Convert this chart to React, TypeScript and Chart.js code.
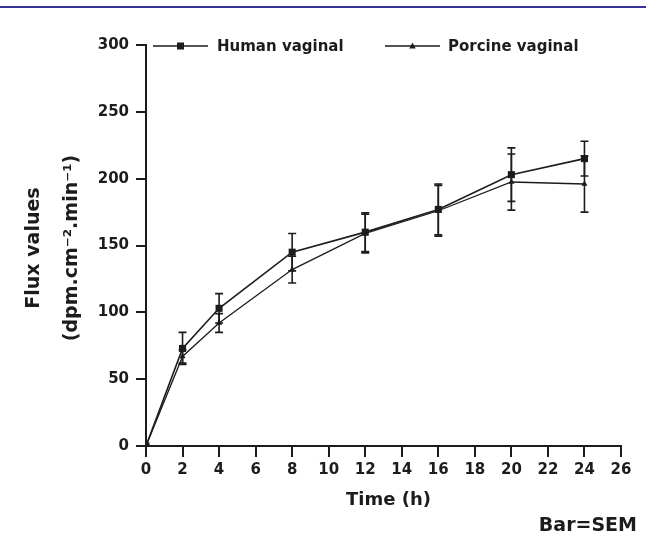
import React, { useEffect, useRef } from "react";
import { Chart, registerables } from "chart.js";

Chart.register(...registerables);

const times = [0, 2, 4, 8, 12, 16, 20, 24];
const humanFlux = [0, 73, 103, 145, 160, 177, 203, 215];
const humanSem = [0, 12, 11, 14, 14.5, 19, 20, 13];
const porcineFlux = [0, 67, 92, 132, 159, 176, 197.5, 196];
const porcineSem = [0, 5, 7, 10, 14.5, 19, 21, 21];
const seriesNames = ["Human vaginal", "Porcine vaginal"];
const xTitle = "Time (h)";
const yTitleLines = ["Flux values", "(dpm.cm\u207B\u00B2.min\u207B\u00B9)"];
const noteText = "Bar=SEM";

const INK = "#1c1c1c";
const FONT = "'DejaVu Sans', sans-serif";

const errorBarPlugin = {
  id: "errorBars",
  beforeDatasetsDraw(chart: any) {
    const { ctx, scales } = chart;
    const sets = [
      { vals: humanFlux, sem: humanSem },
      { vals: porcineFlux, sem: porcineSem },
    ];
    ctx.save();
    ctx.strokeStyle = INK;
    ctx.lineWidth = 1.6;
    sets.forEach((s) => {
      times.forEach((t, j) => {
        if (!s.sem[j]) return;
        const x = scales.x.getPixelForValue(t);
        const yt = scales.y.getPixelForValue(s.vals[j] + s.sem[j]);
        const yb = scales.y.getPixelForValue(s.vals[j] - s.sem[j]);
        ctx.beginPath();
        ctx.moveTo(x, yt);
        ctx.lineTo(x, yb);
        ctx.moveTo(x - 4, yt);
        ctx.lineTo(x + 4, yt);
        ctx.moveTo(x - 4, yb);
        ctx.lineTo(x + 4, yb);
        ctx.stroke();
      });
    });
    ctx.restore();
  },
};

const textPlugin = {
  id: "textDecor",
  afterDraw(chart: any) {
    const { ctx, chartArea } = chart;
    ctx.save();
    ctx.fillStyle = INK;
    ctx.strokeStyle = INK;
    // legend
    const ly = 46;
    const items = [
      { x0: 153, x1: 208, style: "rect", r: 4.5, tx: 217, lw: 1.6 },
      { x0: 385, x1: 440, style: "triangle", r: 3.5, tx: 448, lw: 1.3 },
    ];
    items.forEach((it, i) => {
      ctx.lineWidth = it.lw;
      ctx.beginPath();
      ctx.moveTo(it.x0, ly);
      ctx.lineTo(it.x1, ly);
      ctx.stroke();
      const cx = (it.x0 + it.x1) / 2;
      ctx.beginPath();
      if (it.style === "rect") {
        ctx.rect(cx - 3.5, ly - 3.5, 7, 7);
      } else {
        ctx.moveTo(cx, ly - 3.5);
        ctx.lineTo(cx + 3.2, ly + 2.5);
        ctx.lineTo(cx - 3.2, ly + 2.5);
        ctx.closePath();
      }
      ctx.fill();
      ctx.font = `bold 15px ${FONT}`;
      ctx.textBaseline = "middle";
      ctx.textAlign = "left";
      ctx.fillText(seriesNames[i], it.tx, ly + 1);
    });
    // x title
    ctx.font = `bold 18px ${FONT}`;
    ctx.textAlign = "center";
    ctx.textBaseline = "middle";
    ctx.fillText(xTitle, (chartArea.left + chartArea.right) / 2 + 5, 500);
    // note
    ctx.font = `bold 19px ${FONT}`;
    ctx.textAlign = "right";
    ctx.fillText(noteText, 637, 526);
    // y title
    ctx.save();
    ctx.translate(0, 248);
    ctx.rotate(-Math.PI / 2);
    ctx.font = `bold 19px ${FONT}`;
    ctx.textAlign = "center";
    ctx.textBaseline = "middle";
    ctx.fillText(yTitleLines[0], 0, 34);
    ctx.fillText(yTitleLines[1], 0, 72);
    ctx.restore();
    ctx.restore();
  },
};

export default function App() {
  const ref = useRef<HTMLCanvasElement | null>(null);
  useEffect(() => {
    if (!ref.current) return;
    const tickFont = { family: FONT, size: 15, weight: "bold" as const };
    const chart = new Chart(ref.current, {
      type: "line",
      data: {
        datasets: [
          {
            label: seriesNames[0],
            data: times.map((t, i) => ({ x: t, y: humanFlux[i] })),
            borderColor: INK,
            backgroundColor: INK,
            borderWidth: 1.6,
            pointStyle: "rect",
            pointRadius: 5,
            pointBorderWidth: 0,
            tension: 0,
          },
          {
            label: seriesNames[1],
            data: times.map((t, i) => ({ x: t, y: porcineFlux[i] })),
            borderColor: INK,
            backgroundColor: INK,
            borderWidth: 1.3,
            pointStyle: "triangle",
            pointRadius: 3.5,
            pointBorderWidth: 0,
            tension: 0,
          },
        ],
      },
      options: {
        animation: false,
        responsive: false,
        layout: { padding: { top: 45, right: 25, left: 0, bottom: 0 } },
        plugins: {
          legend: { display: false },
          tooltip: { enabled: false },
        },
        scales: {
          x: {
            type: "linear",
            min: 0,
            max: 26,
            afterFit: (s: any) => {
              s.height = 93;
            },
            ticks: {
              stepSize: 2,
              autoSkip: false,
              maxRotation: 0,
              color: INK,
              font: tickFont,
              padding: 4,
            },
            grid: {
              drawOnChartArea: false,
              drawTicks: true,
              tickLength: 11,
              color: INK,
              lineWidth: 2,
            },
            border: { display: true, color: INK, width: 2 },
          },
          y: {
            min: 0,
            max: 300,
            afterFit: (s: any) => {
              s.width = 146;
            },
            ticks: {
              stepSize: 50,
              color: INK,
              font: tickFont,
              padding: 7,
            },
            grid: {
              drawOnChartArea: false,
              drawTicks: true,
              tickLength: 10,
              color: INK,
              lineWidth: 2,
            },
            border: { display: true, color: INK, width: 2 },
          },
        },
      },
      plugins: [errorBarPlugin, textPlugin],
    });
    return () => chart.destroy();
  }, []);

  return (
    <div
      style={{
        position: "fixed",
        left: 0,
        top: 0,
        width: 646,
        height: 539,
        background: "#fff",
      }}
    >
      <div
        style={{
          position: "absolute",
          left: 0,
          top: 6,
          width: 646,
          height: 2,
          background: "#333399",
        }}
      />
      <canvas
        ref={ref}
        width={646}
        height={539}
        style={{ display: "block", width: 646, height: 539 }}
      />
    </div>
  );
}
